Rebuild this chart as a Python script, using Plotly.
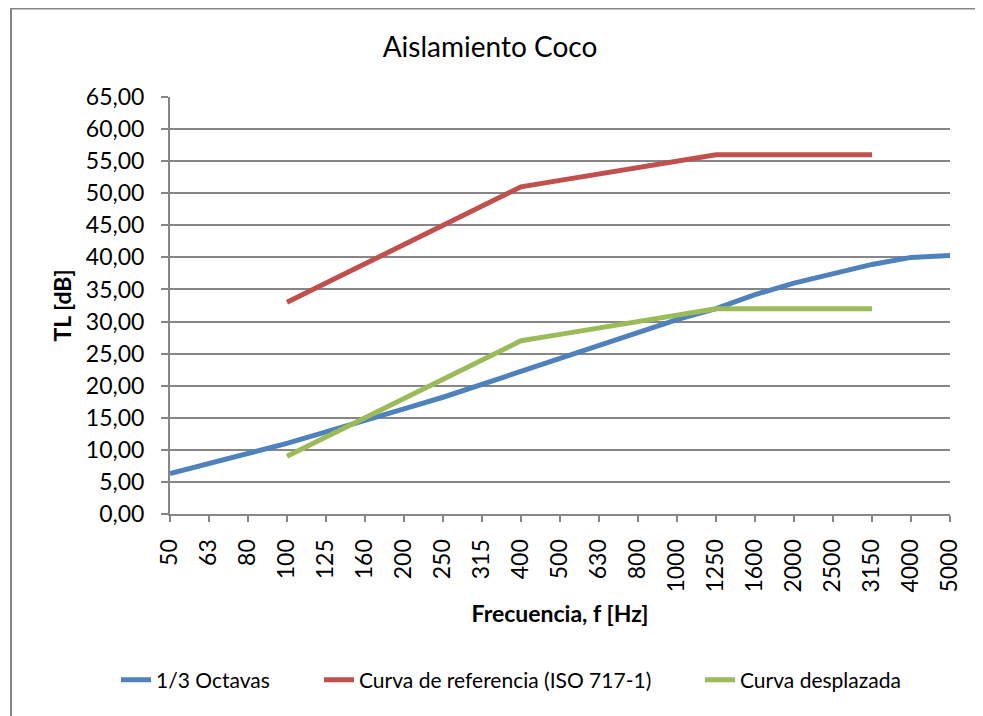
import plotly.graph_objects as go

freqs = ["50", "63", "80", "100", "125", "160", "200", "250", "315", "400", "500",
         "630", "800", "1000", "1250", "1600", "2000", "2500", "3150", "4000", "5000"]

tercio_octavas = [6.3, 7.9, 9.4, 11.0, 12.8, 14.7, 16.4, 18.2, 20.2, 22.2, 24.4,
                  26.4, 28.4, 30.3, 32.0, 34.2, 36.0, 37.5, 38.9, 40.0, 40.3]

ref_freqs = ["100", "125", "160", "200", "250", "315", "400", "500",
             "630", "800", "1000", "1250", "1600", "2000", "2500", "3150"]
curva_referencia = [33, 36, 39, 42, 45, 48, 51, 52, 53, 54, 55, 56, 56, 56, 56, 56]
curva_desplazada = [9, 12, 15, 18, 21, 24, 27, 28, 29, 30, 31, 32, 32, 32, 32, 32]

y_ticks = [0, 5, 10, 15, 20, 25, 30, 35, 40, 45, 50, 55, 60, 65]

FONT = "Lato"

fig = go.Figure()
fig.add_trace(go.Scatter(x=freqs, y=tercio_octavas, mode="lines", name="1/3 Octavas",
                         line=dict(color="#4F81BD", width=5), legend="legend",
                         showlegend=True))
fig.add_trace(go.Scatter(x=ref_freqs, y=curva_referencia, mode="lines",
                         name="Curva de referencia (ISO 717-1)",
                         line=dict(color="#C0504D", width=5), legend="legend2",
                         showlegend=True))
fig.add_trace(go.Scatter(x=ref_freqs, y=curva_desplazada, mode="lines", name="Curva desplazada",
                         line=dict(color="#9BBB59", width=5), legend="legend3",
                         showlegend=True))

# page body has an 8px margin; figure sized/placed to compensate
W, H = 975, 708
L, R, T, B = 162, 33, 89, 202
pw, ph = W - L - R, H - T - B

def px(x):
    return (x - L) / pw

def py(y):
    return (H - B - y) / ph

def legend_at(xleft):
    return dict(orientation="h", xref="container", yref="container",
                x=xleft / W, xanchor="left", y=1 - 672 / H, yanchor="middle",
                font=dict(size=21, family=FONT), bgcolor="rgba(0,0,0,0)", borderwidth=0)

fig.update_layout(
    width=W, height=H,
    showlegend=True,
    margin=dict(l=L, r=R, t=T, b=B, autoexpand=False),
    paper_bgcolor="white", plot_bgcolor="white",
    separators=",.",
    font=dict(family=FONT, color="black"),
    title=dict(text="Aislamiento Coco", x=482 / W, xref="container",
               xanchor="center", y=1 - 39 / H, yanchor="middle",
               font=dict(size=28, family=FONT, color="black")),
    xaxis=dict(type="category", categoryorder="array", categoryarray=freqs,
               range=[0, len(freqs) - 1], showgrid=False,
               showline=True, linecolor="#868686", linewidth=2,
               ticks="outside", ticklen=6, tickcolor="#868686", tickwidth=1.5,
               tickangle=-90, tickfont=dict(size=23, family=FONT),
               ticklabelstandoff=8,
               title=dict(text="<b>Frecuencia, f [Hz]</b>", font=dict(size=23, family=FONT),
                          standoff=14)),
    yaxis=dict(range=[0, 65], tickvals=y_ticks, tickformat=".2f",
               showgrid=True, gridcolor="#868686", gridwidth=1.5,
               showline=True, linecolor="#868686", linewidth=2, zeroline=False,
               ticks="outside", ticklen=7, tickcolor="#868686", tickwidth=1.5,
               tickfont=dict(size=23, family=FONT), ticklabelstandoff=12,
               title=dict(text="<b>TL [dB]</b>", font=dict(size=23, family=FONT),
                          standoff=8)),
    legend=legend_at(108),
    legend2=legend_at(311),
    legend3=legend_at(692),
    shapes=[dict(type="rect", xref="paper", yref="paper",
                 x0=px(3), x1=px(971), y0=py(720), y1=py(0.5),
                 line=dict(color="#868686", width=2), layer="below")],
)

fig.write_html("out.html")
